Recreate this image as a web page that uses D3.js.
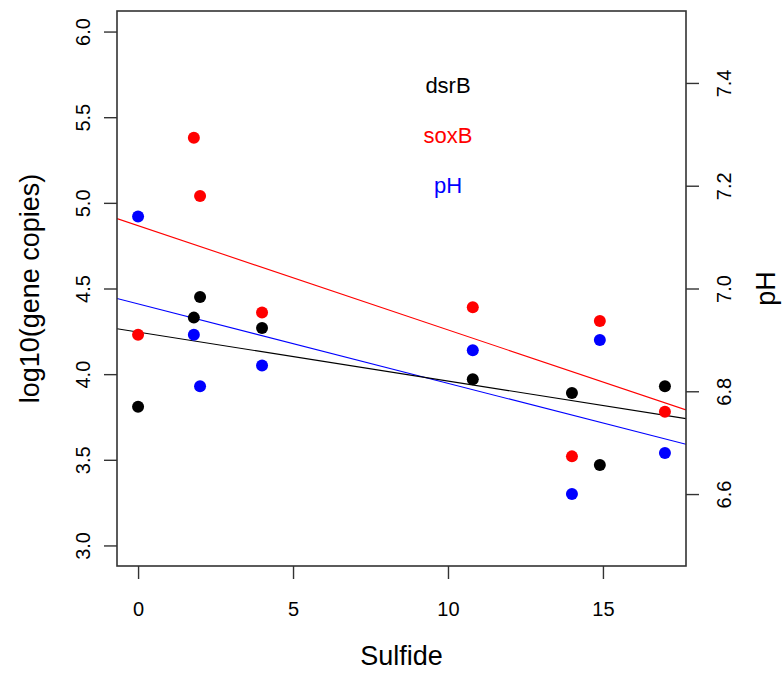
<!DOCTYPE html>
<html>
<head>
<meta charset="utf-8">
<script src="https://cdn.jsdelivr.net/npm/d3@7"></script>
<style>
  html, body { margin: 0; padding: 0; background: #fff; }
  svg { display: block; font-family: "Liberation Sans", Arial, sans-serif; }
</style>
</head>
<body>
<svg id="chart" width="783" height="673"></svg>
<script>
// Sulfide concentration at each sampling site
const sulfide = [0, 1.8, 2, 4, 10.8, 14, 14.9, 17];
// log10 gene copies (left axis)
const dsrB = [3.81, 4.33, 4.45, 4.27, 3.97, 3.89, 3.47, 3.93];
const soxB = [4.23, 5.38, 5.04, 4.36, 4.39, 3.52, 4.31, 3.78];
// pH (right axis)
const pH = [7.14, 6.91, 6.81, 6.85, 6.88, 6.60, 6.90, 6.68];

// Fitted trend lines: [intercept, slope] and the axis each one belongs to
const fitNames = ["soxB", "pH", "dsrB"];
const fitIntercept = [4.867, 6.970, 4.2455];
const fitSlope = [-0.06086, -0.01545, -0.02859];
const fitAxis = ["left", "right", "left"];

const xTicks = [0, 5, 10, 15];
const leftTicks = [3.0, 3.5, 4.0, 4.5, 5.0, 5.5, 6.0];
const rightTicks = [6.6, 6.8, 7.0, 7.2, 7.4];
const legendNames = ["dsrB", "soxB", "pH"];

const colors = { dsrB: "#000000", soxB: "#ff0000", pH: "#0000ff" };

const svg = d3.select("#chart");
const box = { left: 117, right: 686, top: 11, bottom: 566 };

// R-style 4% padding around the data ranges
const x = d3.scaleLinear().domain([-0.68, 17.68]).range([box.left, box.right]);
const yL = d3.scaleLinear().domain([2.88, 6.12]).range([box.bottom, box.top]);
const yR = d3.scaleLinear().domain([6.46, 7.54]).range([box.bottom, box.top]);

// Regression lines, clipped to the plot box
svg.append("clipPath").attr("id", "plotclip")
  .append("rect")
  .attr("x", box.left).attr("y", box.top)
  .attr("width", box.right - box.left).attr("height", box.bottom - box.top);

const xd = x.domain();
fitNames.forEach((name, i) => {
  const ys = fitAxis[i] === "left" ? yL : yR;
  svg.append("line")
    .attr("clip-path", "url(#plotclip)")
    .attr("x1", x(xd[0])).attr("y1", ys(fitIntercept[i] + fitSlope[i] * xd[0]))
    .attr("x2", x(xd[1])).attr("y2", ys(fitIntercept[i] + fitSlope[i] * xd[1]))
    .attr("stroke", colors[name])
    .attr("stroke-width", 1.1);
});

// Points
function drawPoints(values, scale, color) {
  svg.append("g").selectAll("circle")
    .data(values)
    .join("circle")
    .attr("cx", (d, i) => x(sulfide[i]))
    .attr("cy", d => scale(d))
    .attr("r", 6)
    .attr("fill", color);
}
drawPoints(dsrB, yL, colors.dsrB);
drawPoints(soxB, yL, colors.soxB);
drawPoints(pH, yR, colors.pH);

// Plot frame
svg.append("rect")
  .attr("x", box.left).attr("y", box.top)
  .attr("width", box.right - box.left).attr("height", box.bottom - box.top)
  .attr("fill", "none").attr("stroke", "#333").attr("stroke-width", 1.6);

const tickFont = 20;

// Bottom axis
const gx = svg.append("g")
  .attr("transform", `translate(0,${box.bottom})`)
  .call(d3.axisBottom(x).tickValues(xTicks).tickSize(13).tickSizeOuter(0).tickFormat(d3.format("d")));
gx.select(".domain").remove();
gx.selectAll("line").attr("stroke", "#333").attr("stroke-width", 1.4);
gx.selectAll("text")
  .attr("y", 50).attr("dy", null)
  .attr("font-size", tickFont).attr("fill", "#000")
  .attr("font-family", "Liberation Sans, Arial, sans-serif");

// Left axis
const gl = svg.append("g")
  .attr("transform", `translate(${box.left},0)`)
  .call(d3.axisLeft(yL).tickValues(leftTicks).tickSize(13).tickSizeOuter(0).tickFormat(d3.format(".1f")));
gl.select(".domain").remove();
gl.selectAll("line").attr("stroke", "#333").attr("stroke-width", 1.4);
gl.selectAll("text")
  .attr("x", null).attr("dy", null)
  .attr("transform", "translate(-27,0) rotate(-90)")
  .attr("text-anchor", "middle")
  .attr("font-size", tickFont).attr("fill", "#000")
  .attr("font-family", "Liberation Sans, Arial, sans-serif");

// Right axis
const gr = svg.append("g")
  .attr("transform", `translate(${box.right},0)`)
  .call(d3.axisRight(yR).tickValues(rightTicks).tickSize(13).tickSizeOuter(0).tickFormat(d3.format(".1f")));
gr.select(".domain").remove();
gr.selectAll("line").attr("stroke", "#333").attr("stroke-width", 1.4);
gr.selectAll("text")
  .attr("x", null).attr("dy", null)
  .attr("transform", "translate(45,0) rotate(-90)")
  .attr("text-anchor", "middle")
  .attr("font-size", tickFont).attr("fill", "#000")
  .attr("font-family", "Liberation Sans, Arial, sans-serif");

// Axis titles
const titleFont = 27;
svg.append("text")
  .attr("x", (box.left + box.right) / 2).attr("y", 665)
  .attr("text-anchor", "middle").attr("font-size", titleFont)
  .text("Sulfide");
svg.append("text")
  .attr("transform", `translate(39,${(box.top + box.bottom) / 2}) rotate(-90)`)
  .attr("text-anchor", "middle").attr("font-size", titleFont)
  .text("log10(gene copies)");
svg.append("text")
  .attr("transform", `translate(775,${(box.top + box.bottom) / 2}) rotate(-90)`)
  .attr("text-anchor", "middle").attr("font-size", titleFont)
  .text("pH");

// Legend labels
svg.append("g").selectAll("text")
  .data(legendNames)
  .join("text")
  .attr("x", 448)
  .attr("y", (d, i) => 93 + i * 50)
  .attr("text-anchor", "middle")
  .attr("font-size", 22)
  .attr("fill", d => colors[d])
  .text(d => d);
</script>
</body>
</html>
